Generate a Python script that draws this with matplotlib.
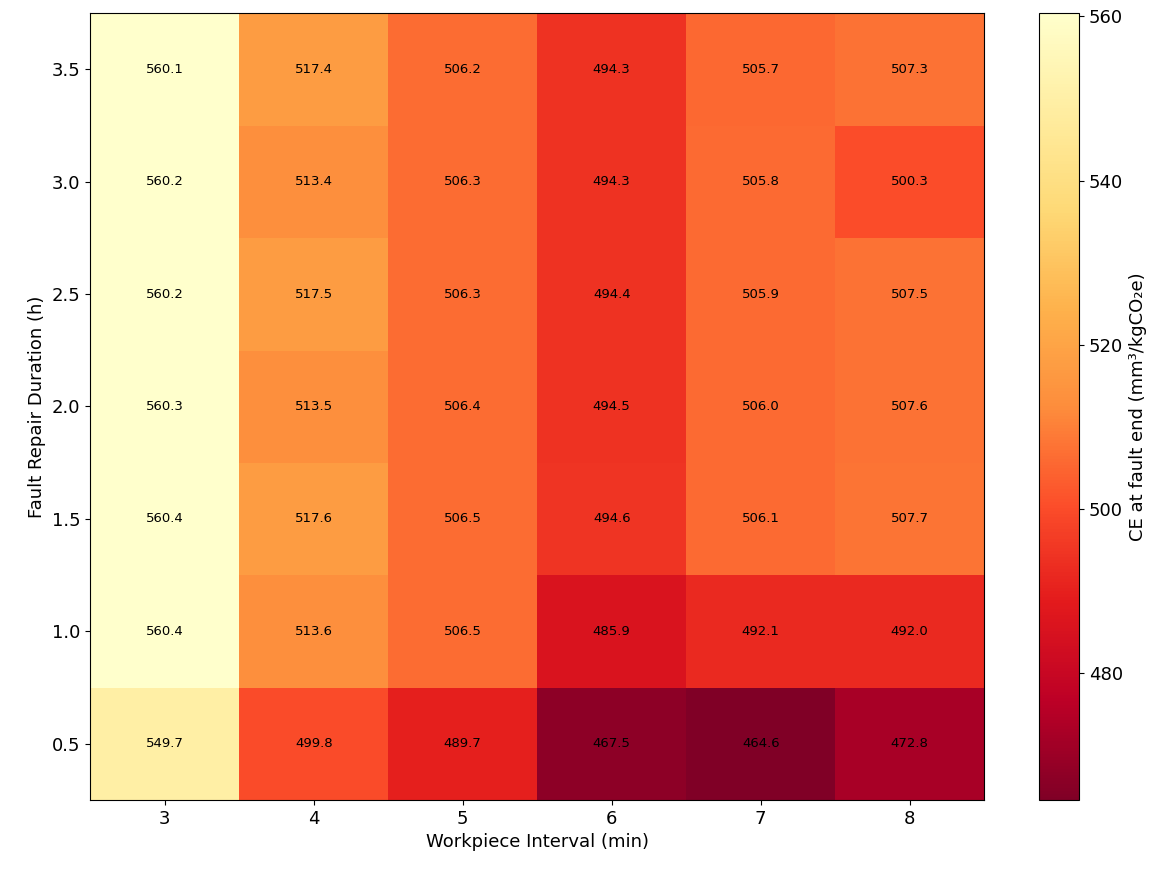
import numpy as np
import matplotlib
matplotlib.use("Agg")
import matplotlib.pyplot as plt

intervals = [3, 4, 5, 6, 7, 8]
durations = [0.5, 1.0, 1.5, 2.0, 2.5, 3.0, 3.5]
ce = np.array([
    [549.7, 499.8, 489.7, 467.5, 464.6, 472.8],
    [560.4, 513.6, 506.5, 485.9, 492.1, 492.0],
    [560.4, 517.6, 506.5, 494.6, 506.1, 507.7],
    [560.3, 513.5, 506.4, 494.5, 506.0, 507.6],
    [560.2, 517.5, 506.3, 494.4, 505.9, 507.5],
    [560.2, 513.4, 506.3, 494.3, 505.8, 500.3],
    [560.1, 517.4, 506.2, 494.3, 505.7, 507.3],
])

fig = plt.figure(figsize=(11.73, 8.77), dpi=100)
ax = fig.add_axes([0.077, 0.088, 0.762, 0.897])
cax = fig.add_axes([0.886, 0.088, 0.034, 0.897])

im = ax.imshow(ce, cmap="YlOrRd_r", origin="lower", aspect="auto",
               extent=[2.5, 8.5, 0.25, 3.75])
for i, d in enumerate(durations):
    for j, w in enumerate(intervals):
        ax.text(w, d, f"{ce[i, j]:.1f}", ha="center", va="center", fontsize=9.5, color="black")

ax.set_xticks(intervals)
ax.set_yticks(durations)
ax.tick_params(labelsize=13)
ax.set_xlabel("Workpiece Interval (min)", fontsize=13)
ax.set_ylabel("Fault Repair Duration (h)", fontsize=13)

cb = fig.colorbar(im, cax=cax)
cb.ax.tick_params(labelsize=13)
cb.set_label("CE at fault end (mm³/kgCO₂e)", fontsize=13)

fig.savefig("out.png", dpi=100)
